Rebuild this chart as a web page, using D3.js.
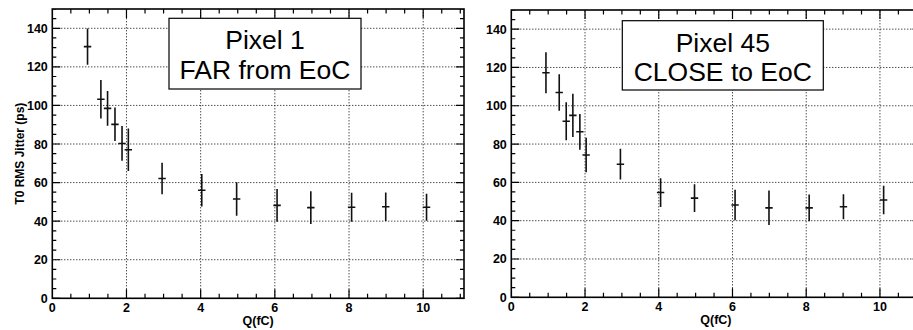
<!DOCTYPE html>
<html>
<head>
<meta charset="utf-8">
<script src="https://cdn.jsdelivr.net/npm/d3@7"></script>
<style>
  html, body { margin: 0; padding: 0; background: #fff; }
  svg { display: block; }
  text { font-family: "Liberation Sans", Arial, Helvetica, sans-serif; }
</style>
</head>
<body>
<svg id="chart" width="913" height="330"></svg>
<script>
// ---- data ----
const charge1 = [0.95, 1.31, 1.49, 1.69, 1.88, 2.05, 2.96, 4.03, 4.97, 6.06, 6.97, 8.07, 8.99, 10.09];
const jitter1 = [130.5, 103.2, 98.5, 90.2, 80.3, 77.0, 62.1, 56.0, 51.5, 48.2, 47.0, 47.2, 47.5, 47.2];
const error1  = [9.4, 10.0, 9.0, 8.7, 9.0, 11.0, 8.2, 8.4, 8.7, 8.5, 8.5, 7.5, 7.4, 7.0];

const charge2 = [0.94, 1.30, 1.49, 1.67, 1.86, 2.03, 2.96, 4.05, 4.97, 6.07, 6.99, 8.08, 9.01, 10.10];
const jitter2 = [117.2, 106.9, 91.9, 95.0, 86.4, 74.3, 69.5, 54.7, 51.8, 48.2, 46.7, 46.7, 47.3, 50.8];
const error2  = [10.7, 9.5, 9.9, 11.3, 9.3, 9.0, 8.0, 7.5, 7.2, 8.0, 9.0, 7.0, 6.5, 7.4];

const chargeErr = 0.1;

const xTicks = [0, 2, 4, 6, 8, 10];
const yTicks = [0, 20, 40, 60, 80, 100, 120, 140];
const xDomain = [0, 11.1];
const yDomain = [0, 150];

const panelTitles1 = ["Pixel 1", "FAR from EoC"];
const panelTitles2 = ["Pixel 45", "CLOSE to EoC"];
const xTitle = "Q(fC)";
const yTitle = "T0 RMS Jitter (ps)";

// ---- drawing ----
const svg = d3.select("#chart");

function drawPanel(opt) {
  const x = d3.scaleLinear().domain(xDomain).range([opt.x0, opt.x1]);
  const y = d3.scaleLinear().domain(yDomain).range([opt.y0, opt.y1]);
  const g = svg.append("g");

  const clipId = "clip" + opt.id;
  svg.append("clipPath").attr("id", clipId)
    .append("rect").attr("x", opt.x0).attr("y", opt.y1)
    .attr("width", opt.x1 - opt.x0).attr("height", opt.y0 - opt.y1);

  const inner = g.append("g").attr("clip-path", `url(#${clipId})`);

  // grid
  inner.selectAll(".gx").data(xTicks.filter(d => d > 0)).join("line")
    .attr("x1", d => x(d)).attr("x2", d => x(d))
    .attr("y1", opt.y0).attr("y2", opt.y1)
    .attr("stroke", "#000").attr("stroke-width", 1).attr("stroke-dasharray", "1,2");
  inner.selectAll(".gy").data(yTicks.filter(d => d > 0)).join("line")
    .attr("y1", d => y(d)).attr("y2", d => y(d))
    .attr("x1", opt.x0).attr("x2", opt.x1)
    .attr("stroke", "#000").attr("stroke-width", 1).attr("stroke-dasharray", "1,2");

  // minor / major ticks (inward on all four sides)
  const xMinor = d3.range(0, xDomain[1] + 1e-6, 0.5);
  const yMinor = d3.range(0, yDomain[1] + 1e-6, 5);
  const isMajX = d => Math.abs(d / 2 - Math.round(d / 2)) < 1e-6;
  const isMajY = d => Math.abs(d / 20 - Math.round(d / 20)) < 1e-6;
  const tickG = inner.append("g").attr("stroke", "#000").attr("stroke-width", 1.2);
  xMinor.forEach(d => {
    const L = isMajX(d) ? 9 : 4.5;
    tickG.append("line").attr("x1", x(d)).attr("x2", x(d)).attr("y1", opt.y0).attr("y2", opt.y0 - L);
    tickG.append("line").attr("x1", x(d)).attr("x2", x(d)).attr("y1", opt.y1).attr("y2", opt.y1 + L);
  });
  yMinor.forEach(d => {
    const L = isMajY(d) ? 8 : 4;
    tickG.append("line").attr("y1", y(d)).attr("y2", y(d)).attr("x1", opt.x0).attr("x2", opt.x0 + L);
    tickG.append("line").attr("y1", y(d)).attr("y2", y(d)).attr("x1", opt.x1).attr("x2", opt.x1 - L);
  });

  // data: error bars
  const pts = opt.q.map((q, i) => ({ q, v: opt.v[i], e: opt.e[i] }));
  const dg = inner.append("g").attr("stroke", "#111").attr("stroke-width", 1.6);
  dg.selectAll(".ey").data(pts).join("line")
    .attr("x1", d => x(d.q)).attr("x2", d => x(d.q))
    .attr("y1", d => y(d.v - d.e)).attr("y2", d => y(d.v + d.e));
  dg.selectAll(".ex").data(pts).join("line")
    .attr("x1", d => x(d.q - chargeErr)).attr("x2", d => x(d.q + chargeErr))
    .attr("y1", d => y(d.v)).attr("y2", d => y(d.v));

  // frame
  g.append("rect").attr("x", opt.x0).attr("y", opt.y1)
    .attr("width", opt.x1 - opt.x0).attr("height", opt.y0 - opt.y1)
    .attr("fill", "none").attr("stroke", "#000").attr("stroke-width", 1.6);

  // tick labels
  g.selectAll(".xl").data(xTicks).join("text")
    .attr("x", d => x(d)).attr("y", opt.y0 + 14)
    .attr("text-anchor", "middle").attr("font-size", 12.5).attr("font-weight", "bold")
    .attr("fill", "#000").text(d => d);
  g.selectAll(".yl").data(yTicks).join("text")
    .attr("x", opt.x0 - 4.5).attr("y", d => y(d)).attr("dy", "0.36em")
    .attr("text-anchor", "end").attr("font-size", 12.5).attr("font-weight", "bold")
    .attr("fill", "#000").text(d => d);

  // axis titles
  g.append("text").attr("x", (opt.x0 + opt.x1) / 2).attr("y", opt.y0 + 27)
    .attr("text-anchor", "middle").attr("font-size", 12.5).attr("font-weight", "bold")
    .attr("fill", "#000").text(xTitle);
  if (opt.showYTitle) {
    g.append("text")
      .attr("transform", `translate(${opt.x0 - 28},${(opt.y0 + opt.y1) / 2}) rotate(-90)`)
      .attr("text-anchor", "middle").attr("font-size", 12).attr("font-weight", "bold")
      .attr("fill", "#000").text(yTitle);
  }

  // title box
  const b = opt.box;
  g.append("rect").attr("x", b.x).attr("y", b.y).attr("width", b.w).attr("height", b.h)
    .attr("fill", "#fff").attr("stroke", "#000").attr("stroke-width", 1.2);
  opt.titles.forEach((t, i) => {
    g.append("text").attr("x", b.x + b.w / 2).attr("y", b.y + 31 + i * 29.5)
      .attr("text-anchor", "middle").attr("font-size", 26.5)
      .attr("fill", "#000").text(t);
  });
}

drawPanel({
  id: 1, x0: 52.3, x1: 464.0, y0: 298.3, y1: 9,
  q: charge1, v: jitter1, e: error1,
  titles: panelTitles1, showYTitle: true,
  box: { x: 169, y: 18.3, w: 192, h: 70.7 }
});
drawPanel({
  id: 2, x0: 511.3, x1: 920.5, y0: 297.3, y1: 10,
  q: charge2, v: jitter2, e: error2,
  titles: panelTitles2, showYTitle: false,
  box: { x: 622.3, y: 20.7, w: 201, h: 69.3 }
});
</script>
</body>
</html>
